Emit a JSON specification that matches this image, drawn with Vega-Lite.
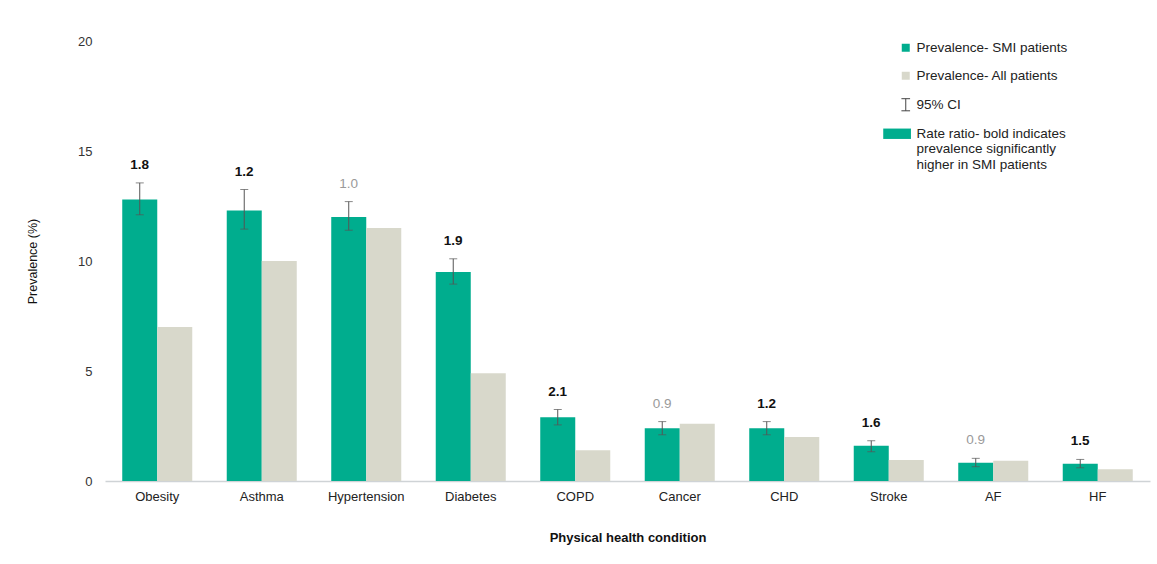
{
  "$schema": "https://vega.github.io/schema/vega-lite/v6.json",
  "width": 1045,
  "height": 440,
  "autosize": "none",
  "padding": {"left": 105, "top": 41, "right": 7, "bottom": 83},
  "background": "white",
  "config": {
    "font": "Liberation Sans",
    "view": {"stroke": null},
    "axis": {"grid": false, "labelFont": "Liberation Sans", "titleFont": "Liberation Sans"}
  },
  "data": {
    "values": [
      {"condition": "Obesity", "series": "Prevalence- SMI patients", "value": 12.8, "lo": 12.1, "hi": 13.55, "rr": "1.8", "sig": true},
      {"condition": "Obesity", "series": "Prevalence- All patients", "value": 7.0},
      {"condition": "Asthma", "series": "Prevalence- SMI patients", "value": 12.3, "lo": 11.45, "hi": 13.25, "rr": "1.2", "sig": true},
      {"condition": "Asthma", "series": "Prevalence- All patients", "value": 10.0},
      {"condition": "Hypertension", "series": "Prevalence- SMI patients", "value": 12.0, "lo": 11.4, "hi": 12.7, "rr": "1.0", "sig": false},
      {"condition": "Hypertension", "series": "Prevalence- All patients", "value": 11.5},
      {"condition": "Diabetes", "series": "Prevalence- SMI patients", "value": 9.5, "lo": 8.95, "hi": 10.1, "rr": "1.9", "sig": true},
      {"condition": "Diabetes", "series": "Prevalence- All patients", "value": 4.9},
      {"condition": "COPD", "series": "Prevalence- SMI patients", "value": 2.9, "lo": 2.55, "hi": 3.25, "rr": "2.1", "sig": true},
      {"condition": "COPD", "series": "Prevalence- All patients", "value": 1.4},
      {"condition": "Cancer", "series": "Prevalence- SMI patients", "value": 2.4, "lo": 2.1, "hi": 2.7, "rr": "0.9", "sig": false},
      {"condition": "Cancer", "series": "Prevalence- All patients", "value": 2.6},
      {"condition": "CHD", "series": "Prevalence- SMI patients", "value": 2.4, "lo": 2.1, "hi": 2.7, "rr": "1.2", "sig": true},
      {"condition": "CHD", "series": "Prevalence- All patients", "value": 2.0},
      {"condition": "Stroke", "series": "Prevalence- SMI patients", "value": 1.6, "lo": 1.33, "hi": 1.83, "rr": "1.6", "sig": true},
      {"condition": "Stroke", "series": "Prevalence- All patients", "value": 0.95},
      {"condition": "AF", "series": "Prevalence- SMI patients", "value": 0.83, "lo": 0.65, "hi": 1.03, "rr": "0.9", "sig": false},
      {"condition": "AF", "series": "Prevalence- All patients", "value": 0.92},
      {"condition": "HF", "series": "Prevalence- SMI patients", "value": 0.78, "lo": 0.6, "hi": 0.98, "rr": "1.5", "sig": true},
      {"condition": "HF", "series": "Prevalence- All patients", "value": 0.53}
    ]
  },
  "encoding": {
    "x": {
      "field": "condition",
      "type": "nominal",
      "sort": null,
      "scale": {"paddingInner": 0.33, "paddingOuter": 0.165},
      "axis": {
        "title": "Physical health condition",
        "titleFontWeight": "bold",
        "titleFontSize": 13,
        "titleColor": "#111",
        "titleY": 56,
        "titleBaseline": "middle",
        "labelAngle": 0,
        "labelFontSize": 13,
        "labelColor": "#222",
        "labelPadding": 9,
        "ticks": false,
        "tickSize": 0,
        "domainColor": "#cfd3d6",
        "domainWidth": 1.5
      }
    },
    "xOffset": {
      "field": "series",
      "type": "nominal",
      "sort": ["Prevalence- SMI patients", "Prevalence- All patients"],
      "scale": {"domain": ["Prevalence- SMI patients", "Prevalence- All patients"], "paddingInner": 0, "paddingOuter": 0}
    }
  },
  "layer": [
    {
      "mark": {"type": "bar"},
      "encoding": {
        "y": {
          "field": "value",
          "type": "quantitative",
          "scale": {"domain": [0, 20]},
          "axis": {
            "values": [0, 5, 10, 15, 20],
            "title": "Prevalence (%)",
            "titleFontWeight": "normal",
            "titleFontSize": 12.5,
            "titleColor": "#111",
            "titleX": -66,
            "titleY": 220,
            "titleBaseline": "bottom",
            "labelFontSize": 13,
            "labelColor": "#333",
            "labelPadding": 13,
            "ticks": false,
            "tickSize": 0,
            "domain": false
          }
        },
        "color": {
          "field": "series",
          "type": "nominal",
          "scale": {
            "domain": ["Prevalence- SMI patients", "Prevalence- All patients", "95% CI", "Rate ratio"],
            "range": ["#00ad8e", "#d8d8cb", "#555555", "#00ad8e"]
          },
          "legend": {
            "title": null,
            "orient": "none",
            "legendX": 794,
            "legendY": 0,
            "labelFont": "Liberation Sans",
            "labelFontSize": 13.5,
            "labelColor": "#222",
            "labelLimit": 300,
            "rowPadding": 13,
            "symbolSize": 70,
            "labelExpr": "datum.label == 'Rate ratio' ? ['Rate ratio- bold indicates', 'prevalence significantly', 'higher in SMI patients'] : datum.label",
            "encode": {
              "symbols": {
                "update": {
                  "shape": {"signal": "datum.value == '95% CI' ? 'M-0.5,-0.7H0.5M0,-0.7V0.7M-0.5,0.7H0.5' : (datum.value == 'Rate ratio' ? 'M-2.6,-0.6H0.6V0.6H-2.6Z' : 'square')"},
                  "stroke": {"signal": "datum.value == '95% CI' ? '#444444' : 'transparent'"},
                  "fill": {"signal": "datum.value == '95% CI' ? 'transparent' : scale('color', datum.value)"},
                  "strokeWidth": {"signal": "datum.value == '95% CI' ? 1 : 0"},
                  "size": {"signal": "datum.value == '95% CI' ? 300 : (datum.value == 'Rate ratio' ? 300 : 64)"}
                }
              }
            }
          }
        }
      }
    },
    {
      "transform": [{"filter": "datum.series == 'Prevalence- SMI patients'"}],
      "mark": {"type": "rule", "color": "#555", "strokeWidth": 1},
      "encoding": {
        "y": {"field": "lo", "type": "quantitative"},
        "y2": {"field": "hi"}
      }
    },
    {
      "transform": [{"filter": "datum.series == 'Prevalence- SMI patients'"}],
      "mark": {"type": "tick", "color": "#555", "size": 8, "thickness": 1},
      "encoding": {"y": {"field": "lo", "type": "quantitative"}}
    },
    {
      "transform": [{"filter": "datum.series == 'Prevalence- SMI patients'"}],
      "mark": {"type": "tick", "color": "#555", "size": 8, "thickness": 1},
      "encoding": {"y": {"field": "hi", "type": "quantitative"}}
    },
    {
      "transform": [{"filter": "datum.series == 'Prevalence- SMI patients' && datum.sig"}],
      "mark": {"type": "text", "dy": -18, "baseline": "middle", "fontSize": 13.5, "font": "Liberation Sans", "fontWeight": "bold", "color": "#111"},
      "encoding": {
        "y": {"field": "hi", "type": "quantitative"},
        "text": {"field": "rr"}
      }
    },
    {
      "transform": [{"filter": "datum.series == 'Prevalence- SMI patients' && !datum.sig"}],
      "mark": {"type": "text", "dy": -18, "baseline": "middle", "fontSize": 13.5, "font": "Liberation Sans", "fontWeight": "normal", "color": "#9a9a9a"},
      "encoding": {
        "y": {"field": "hi", "type": "quantitative"},
        "text": {"field": "rr"}
      }
    }
  ]
}
